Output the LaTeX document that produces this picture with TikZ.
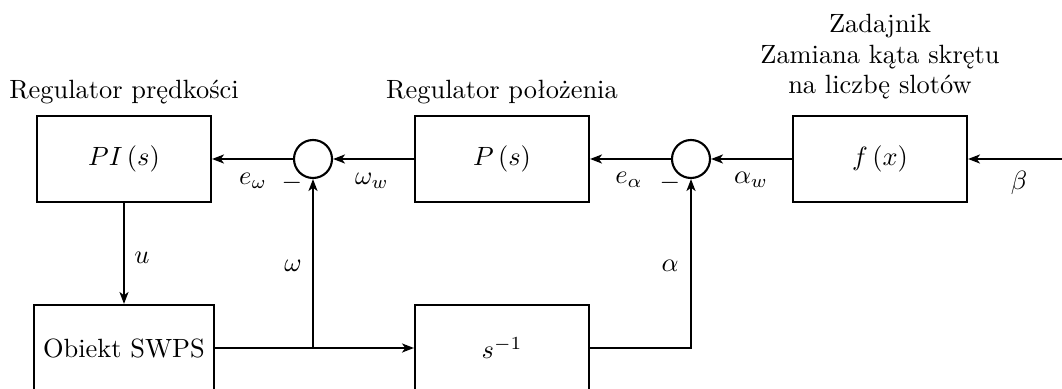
\documentclass[tikz,border=0pt]{standalone}
\usetikzlibrary{arrows.meta}
\begin{document}
\begin{tikzpicture}[x=0.3788pt,y=-0.3788pt,
  blk/.style={draw,line width=0.8pt,minimum width=65.9pt,minimum height=32.6pt,inner sep=3.33pt},
  sumc/.style={draw,circle,line width=0.8pt,minimum size=14.4pt,inner sep=0pt},
  conn/.style={line width=0.8pt},
  arr/.style={conn,-{Stealth[length=4.5pt,width=3.4pt,inset=1.2pt]}},
  lbl/.style={inner sep=0pt},
  ttl/.style={inner sep=0pt,align=center}]
\useasboundingbox (0,0) rectangle (1062,389);
% blocks
\node[blk] (pi) at (124,159) {$PI\left(s\right)$};
\node[sumc] (s1) at (313,159) {};
\node[blk] (p) at (502,159) {$P\left(s\right)$};
\node[sumc] (s2) at (691,159) {};
\node[blk] (f) at (880,159) {$f\left(x\right)$};
\node[blk] (obj) at (124,348) {Obiekt SWPS};
\node[blk] (int) at (502,348) {$s^{-1}$};
% titles
\node[ttl,anchor=base] (t1) at (124,99) {Regulator prędkości};
\node[ttl,anchor=base] (t2) at (502,99) {Regulator położenia};
\node[ttl,anchor=north] (t3) at (880,14) {Zadajnik\\[-0.5pt]Zamiana kąta skrętu\\[-0.5pt]na liczbę slotów};
% connectors
\coordinate (in) at (1062,159);
\draw[arr] (in) -- (f.east);
\draw[arr] (f.west) -- (s2.east);
\draw[arr] (s2.west) -- (p.east);
\draw[arr] (p.west) -- (s1.east);
\draw[arr] (s1.west) -- (pi.east);
\draw[arr] (pi.south) -- (obj.north);
\draw[arr] (obj.east) -- (int.west);
\coordinate (j) at (s1.south |- obj.east);
\draw[arr] (j) -- (s1.south);
\draw[arr] (int.east) -| (s2.south);
% labels
\node[lbl] (le) at (253,181) {$e_\omega$};
\node[lbl] (m1) at (292,183) {$-$};
\node[lbl] (lw) at (372,181) {$\omega_w$};
\node[lbl] (lea) at (629,180) {$e_\alpha$};
\node[lbl] (m2) at (670,183) {$-$};
\node[lbl] (law) at (751,180) {$\alpha_w$};
\node[lbl] (lb) at (1019,183) {$\beta$};
\node[lbl] (lu) at (142,258) {$u$};
\node[lbl] (lo) at (293,266) {$\omega$};
\node[lbl] (la) at (670,266) {$\alpha$};
\end{tikzpicture}
\end{document}
